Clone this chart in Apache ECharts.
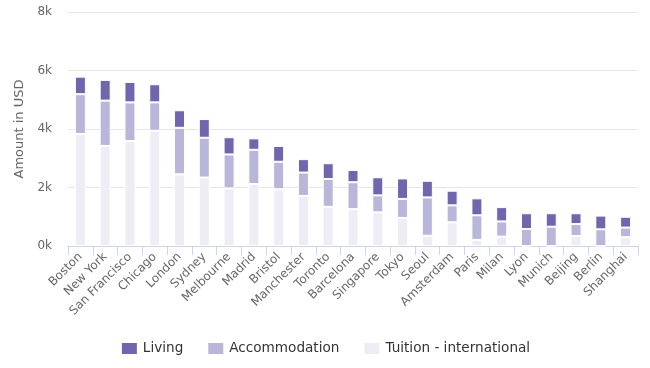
<!DOCTYPE html>
<html><head><meta charset="utf-8">
<script src="https://cdn.jsdelivr.net/npm/echarts@6/dist/echarts.min.js"></script>
<style>html,body{margin:0;padding:0;background:#fff}#c{width:650px;height:368px}</style>
</head><body><div id="c"></div>
<script>
const categories = ["Boston","New York","San Francisco","Chicago","London","Sydney","Melbourne","Madrid","Bristol","Manchester","Toronto","Barcelona","Singapore","Tokyo","Seoul","Amsterdam","Paris","Milan","Lyon","Munich","Beijing","Berlin","Shanghai"];
const living        = [600, 710, 700, 620, 600, 640, 590, 390, 540, 460, 540, 420, 620, 700, 570, 500, 580, 490, 540, 460, 370, 470, 370];
const accommodation = [1360,1550,1320, 970,1590,1360,1160,1170, 940, 800, 950, 920, 580, 650,1310, 580, 840, 520, 580, 660, 410, 570, 330];
const tuition       = [3830,3420,3590,3940,2450,2340,1970,2120,1940,1710,1340,1260,1150, 960, 350, 810, 210, 320,   0,   0, 340,   0, 300];
const yTicks = [0, 2000, 4000, 6000, 8000];

const font = "DejaVu Sans";
const chart = echarts.init(document.getElementById('c'));
function ser(name, data, color){
  return {name, type:'bar', stack:'total', data, barWidth:11,
    itemStyle:{color, borderColor:'#fff', borderWidth:1}, emphasis:{disabled:true}};
}
chart.setOption({
  animation:false,
  textStyle:{fontFamily:font},
  grid:{left:68, right:12, top:12, bottom:122},
  legend:{top:336, left:'center', itemWidth:17, itemHeight:13, itemGap:23,
    textStyle:{fontFamily:font, fontSize:13.6, color:'#333'},
    data:['Living','Accommodation','Tuition - international'], icon:'rect'},
  xAxis:{type:'category', data:categories, boundaryGap:true,
    axisLine:{lineStyle:{color:'#ccd6eb'}},
    axisTick:{show:true, length:9, lineStyle:{color:'#ccd6eb'}},
    axisLabel:{rotate:45, interval:0, fontSize:12, color:'#666', fontFamily:font, margin:9}},
  yAxis:{type:'value', min:0, max:8000, interval:2000,
    name:'Amount in USD', nameLocation:'middle', nameGap:40, nameRotate:90,
    nameTextStyle:{fontSize:13, color:'#666', fontFamily:font},
    axisLabel:{fontSize:12, color:'#666', fontFamily:font, margin:16,
      formatter:v => yTicks.includes(v) ? (v/1000)+'k' : ''},
    splitLine:{lineStyle:{color:'#e6e6e6'}},
    axisLine:{show:false}, axisTick:{show:false}},
  series:[
    ser('Tuition - international', tuition, '#eeedf6'),
    ser('Accommodation', accommodation, '#b9b6da'),
    ser('Living', living, '#7066ae')
  ]
});
</script></body></html>
